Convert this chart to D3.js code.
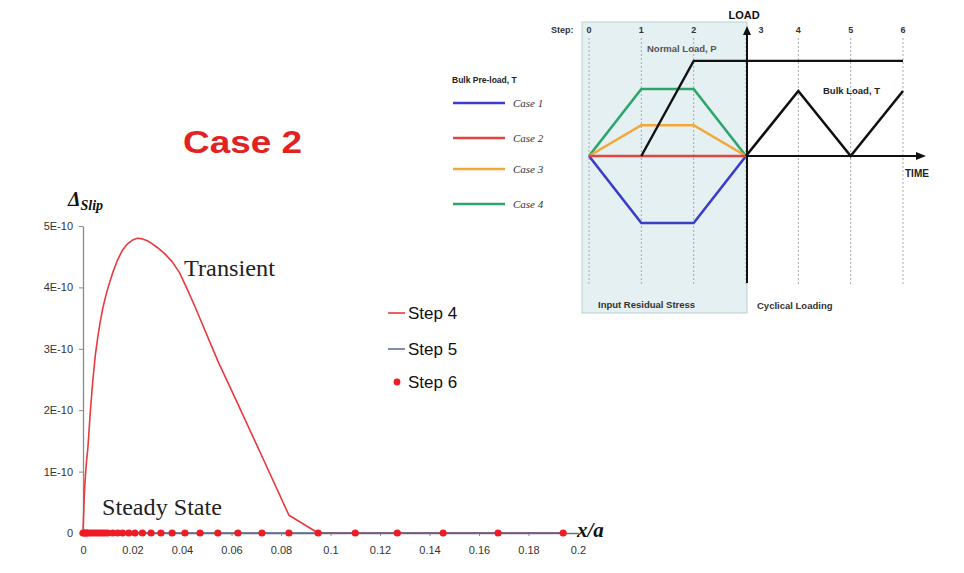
<!DOCTYPE html>
<html><head><meta charset="utf-8">
<script src="https://cdn.jsdelivr.net/npm/d3@7/dist/d3.min.js"></script>
<style>
html,body{margin:0;padding:0;background:#fff;}
svg{display:block;}
</style></head>
<body>
<svg id="c" width="964" height="573"></svg>
<script>
// ---------- main chart data ----------
const xTicks = [0,0.02,0.04,0.06,0.08,0.1,0.12,0.14,0.16,0.18,0.2];
const yTicks = [0,1e-10,2e-10,3e-10,4e-10,5e-10];
// Step 4 (transient) curve
const step4X = [0,0.0005,0.001,0.0015,0.002,0.003,0.004,0.005,0.006,0.007,0.008,0.009,0.010,0.012,0.014,0.016,0.018,0.020,0.022,0.024,0.026,0.028,0.030,0.033,0.036,0.039,0.042,0.045,0.0473,0.0545,0.0626,0.0723,0.0832,0.095,0.194];
const step4 = [0,0.6e-10,0.95e-10,1.2e-10,1.4e-10,2.0e-10,2.5e-10,2.9e-10,3.2e-10,3.45e-10,3.66e-10,3.83e-10,3.98e-10,4.24e-10,4.45e-10,4.61e-10,4.71e-10,4.77e-10,4.80e-10,4.79e-10,4.76e-10,4.71e-10,4.65e-10,4.55e-10,4.42e-10,4.24e-10,3.98e-10,3.71e-10,3.49e-10,2.80e-10,2.10e-10,1.25e-10,0.29e-10,0,0];
// Step 5 and Step 6 (steady state) at the mesh points
const meshX = [0,0.0005,0.001,0.0015,0.002,0.003,0.004,0.005,0.006,0.007,0.008,0.009,0.010,0.012,0.014,0.016,0.0185,0.021,0.024,0.0275,0.0315,0.036,0.0412,0.0473,0.0545,0.0626,0.0723,0.0832,0.095,0.110,0.127,0.1455,0.1677,0.194];
const step5 = [0,0,0,0,0,0,0,0,0,0,0,0,0,0,0,0,0,0,0,0,0,0,0,0,0,0,0,0,0,0,0,0,0,0];
const step6 = [0,0,0,0,0,0,0,0,0,0,0,0,0,0,0,0,0,0,0,0,0,0,0,0,0,0,0,0,0,0,0,0,0,0];
const seriesNames = ["Step 4","Step 5","Step 6"];

// ---------- inset schematic data ----------
const steps = [0,1,2,3,4,5,6];
const normalLoadSteps = [1,2,3,4,5,6];
const normalLoadValues = [0,1.42,1.42,1.42,1.42,1.42];
const bulkLoadSteps = [3,4,5,6];
const bulkLoadValues = [0,0.97,0,0.97];
const preloadSteps = [0,1,2,3];
const case1 = [0,-1,-1,0];
const case2 = [0,0,0,0];
const case3 = [0,0.46,0.46,0];
const case4 = [0,1,1,0];
const caseNames = ["Case 1","Case 2","Case 3","Case 4"];

const svg = d3.select("#c");
const SANS = "'Liberation Sans', Arial, sans-serif";
const SERIF = "'Liberation Serif', 'Times New Roman', serif";

// ---------- main chart ----------
const x = d3.scaleLinear().domain([0,0.2]).range([83,578]);
const y = d3.scaleLinear().domain([0,5e-10]).range([533,226]);

const yAxis = d3.axisLeft(y).tickValues(yTicks).tickSize(4).tickSizeOuter(0)
  .tickFormat(d => d === 0 ? "0" : Math.round(d/1e-10) + "E-10");
const gy = svg.append("g").attr("transform","translate(83,0)").call(yAxis);
gy.select(".domain").attr("stroke","#8a8a8a").attr("stroke-width",1.3);
gy.selectAll(".tick line").attr("stroke","#8a8a8a");
gy.selectAll(".tick text").attr("font-family",SANS).attr("font-size",11).attr("fill","#333").attr("x",-10);

const xAxis = d3.axisBottom(x).tickValues(xTicks).tickSize(3).tickSizeOuter(0)
  .tickFormat(d => String(+d.toFixed(2)));
const gx = svg.append("g").attr("transform","translate(0,533)").call(xAxis);
gx.select(".domain").attr("stroke","#6d7280").attr("stroke-width",1.3);
gx.selectAll(".tick line").attr("stroke","#8a8a8a");
gx.selectAll(".tick text").attr("font-family",SANS).attr("font-size",11).attr("fill","#333").attr("y",13);

// series
const s4rows = step4X.map((xv,i)=>({x:xv, v:step4[i]}));
const meshRows = meshX.map((xv,i)=>({x:xv, s5:step5[i], s6:step6[i]}));
svg.append("path").datum(s4rows)
  .attr("fill","none").attr("stroke","#e8393d").attr("stroke-width",1.6).attr("stroke-linejoin","round")
  .attr("d", d3.line().x(d=>x(d.x)).y(d=>y(d.v)));
svg.append("path").datum(meshRows)
  .attr("fill","none").attr("stroke","#5b6794").attr("stroke-width",1.5)
  .attr("d", d3.line().x(d=>x(d.x)).y(d=>y(d.s5)));
svg.append("g").selectAll("circle").data(meshRows).join("circle")
  .attr("cx",d=>x(d.x)).attr("cy",d=>y(d.s6)).attr("r",3.6).attr("fill","#ee1c25");

// axis titles
const yt = svg.append("text").attr("x",68).attr("y",206).attr("font-family",SERIF)
  .attr("font-style","italic").attr("font-weight","bold").attr("fill","#111");
yt.append("tspan").attr("font-size",20).text("Δ");
yt.append("tspan").attr("font-size",14).attr("dy",4).text("Slip");
svg.append("text").attr("x",577).attr("y",537).attr("font-family",SERIF)
  .attr("font-style","italic").attr("font-weight","bold").attr("font-size",21).attr("fill","#111").text("x/a");

// annotations
svg.append("text").attr("x",184).attr("y",276).attr("font-family",SERIF).attr("font-size",23)
  .attr("fill","#222").attr("textLength",91).attr("lengthAdjust","spacingAndGlyphs").text("Transient");
svg.append("text").attr("x",102).attr("y",515).attr("font-family",SERIF).attr("font-size",23)
  .attr("fill","#222").attr("textLength",120).attr("lengthAdjust","spacingAndGlyphs").text("Steady State");
svg.append("text").attr("x",183).attr("y",153).attr("font-family",SANS).attr("font-weight","bold")
  .attr("font-size",31).attr("fill","#e3211f").attr("textLength",119).attr("lengthAdjust","spacingAndGlyphs").text("Case 2");

// legend
const legY = [313,349,382];
const lg = svg.append("g");
lg.append("line").attr("x1",388).attr("x2",405).attr("y1",legY[0]).attr("y2",legY[0]).attr("stroke","#e8393d").attr("stroke-width",1.6);
lg.append("line").attr("x1",388).attr("x2",405).attr("y1",legY[1]).attr("y2",legY[1]).attr("stroke","#5b6794").attr("stroke-width",1.5);
lg.append("circle").attr("cx",397).attr("cy",legY[2]).attr("r",3.4).attr("fill","#ee1c25");
seriesNames.forEach((n,i)=>{
  lg.append("text").attr("x",408).attr("y",legY[i]+6).attr("font-family",SANS).attr("font-size",17)
    .attr("fill","#111").text(n);
});

// ---------- inset schematic ----------
const sx = d3.scaleLinear().domain([0,6]).range([589,903]);
const sy = d3.scaleLinear().domain([0,1]).range([156,89]);
const ins = svg.append("g");
ins.append("rect").attr("x",582).attr("y",22).attr("width",165).attr("height",291)
  .attr("fill","#e4f0f1").attr("stroke","#b9cfd3").attr("stroke-width",1);
ins.selectAll("line.grid").data(steps).join("line").attr("class","grid")
  .attr("x1",d=>sx(d)).attr("x2",d=>sx(d)).attr("y1",38).attr("y2",285)
  .attr("stroke","#a9a9a9").attr("stroke-width",1).attr("stroke-dasharray","2,2");
ins.append("text").attr("x",551).attr("y",33).attr("font-family",SANS).attr("font-weight","bold")
  .attr("font-size",9).attr("fill","#333").text("Step:");
ins.selectAll("text.step").data(steps).join("text").attr("class","step")
  .attr("x",d=>sx(d) + (d===3?15:0)).attr("y",33).attr("text-anchor","middle")
  .attr("font-family",SANS).attr("font-weight","bold").attr("font-size",9).attr("fill","#333")
  .text(d=>d);

const caseColors = ["#3b3dc8","#e24343","#f2a838","#2ea56c"];
const caseData = [case1,case2,case3,case4];
const lineS = d3.line().x(d=>sx(d[0])).y(d=>sy(d[1]));
[3,2,0,1].forEach(ci=>{
  ins.append("path").datum(preloadSteps.map((s,i)=>[s,caseData[ci][i]]))
    .attr("fill","none").attr("stroke",caseColors[ci]).attr("stroke-width",2.6).attr("d",lineS);
});
ins.append("line").attr("x1",747).attr("x2",918).attr("y1",sy(0)).attr("y2",sy(0))
  .attr("stroke","#111").attr("stroke-width",2);
ins.append("path").attr("d",`M926,${sy(0)} L916,${sy(0)-4} L916,${sy(0)+4} Z`).attr("fill","#111");
ins.append("line").attr("x1",747).attr("x2",747).attr("y1",283).attr("y2",34)
  .attr("stroke","#111").attr("stroke-width",2);
ins.append("path").attr("d","M747,26 L743,35 L751,35 Z").attr("fill","#111");
ins.append("path").datum(normalLoadSteps.map((s,i)=>[s,normalLoadValues[i]]))
  .attr("fill","none").attr("stroke","#111").attr("stroke-width",2.4).attr("d",lineS);
ins.append("path").datum(bulkLoadSteps.map((s,i)=>[s,bulkLoadValues[i]]))
  .attr("fill","none").attr("stroke","#111").attr("stroke-width",2.6).attr("d",lineS);

const lbl = (t,xx,yy,opts={})=>ins.append("text").attr("x",xx).attr("y",yy)
  .attr("font-family",opts.serif?SERIF:SANS).attr("font-weight",opts.serif?"normal":"bold")
  .attr("font-style",opts.serif?"italic":"normal")
  .attr("font-size",opts.size||9).attr("fill",opts.fill||"#333")
  .attr("text-anchor",opts.anchor||"start").text(t);
lbl("LOAD",744,19,{anchor:"middle",size:11,fill:"#111"});
lbl("Normal  Load, P",647,52,{size:9.5,fill:"#555"});
lbl("Bulk  Load, T",823,94,{size:9.5,fill:"#222"});
lbl("TIME",905,177,{size:10,fill:"#222"});
lbl("Input Residual Stress",598,308,{size:9.5,fill:"#333"});
lbl("Cyclical Loading",757,309,{size:9.5,fill:"#333"});
lbl("Bulk Pre-load, T",452,83,{size:8.5,fill:"#222"});
const caseY = [103,138,169,204];
caseY.forEach((cy,i)=>{
  ins.append("line").attr("x1",453).attr("x2",505).attr("y1",cy).attr("y2",cy)
    .attr("stroke",caseColors[i]).attr("stroke-width",2.6);
  lbl(caseNames[i],513,cy+4,{serif:true,size:11,fill:"#333"});
});
</script>
</body></html>
